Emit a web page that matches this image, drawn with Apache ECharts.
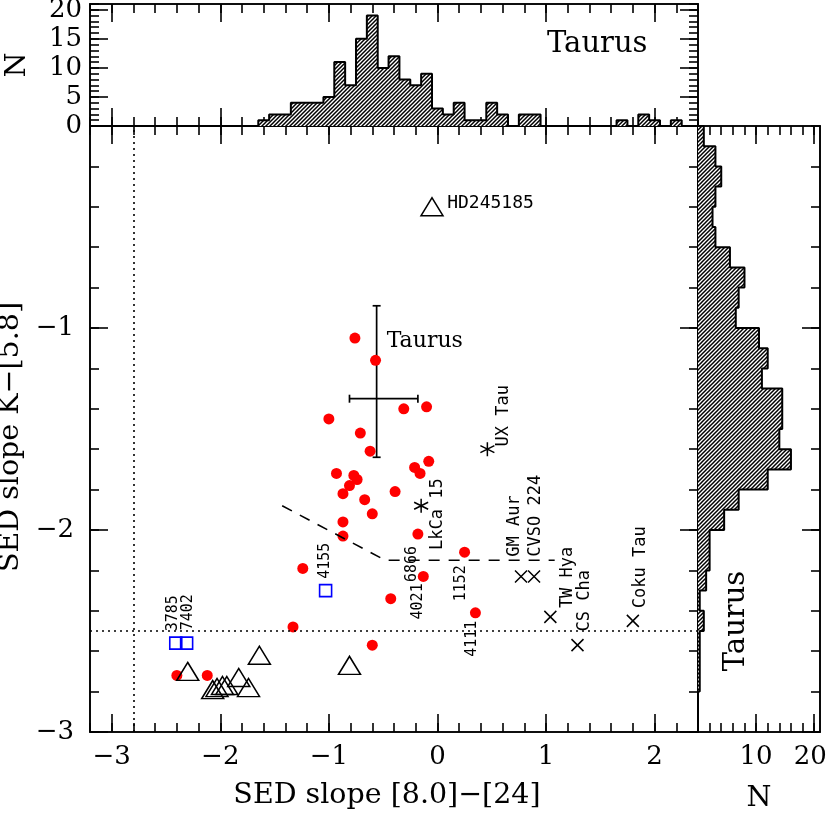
<!DOCTYPE html>
<html><head><meta charset="utf-8">
<script src="https://cdn.jsdelivr.net/npm/echarts@6/dist/echarts.min.js"></script>
<style>html,body{margin:0;padding:0;background:#fff}#c{width:830px;height:820px}</style>
</head><body><div id="c"></div>
<script>
// ---------------- DATA ----------------
const xMajorTicks = [-3, -2, -1, 0, 1, 2];
const yMajorTicks = [-3, -2, -1];
const topHistNTicks = [0, 5, 10, 15, 20];
const rightHistNTicks = [10, 20];

// top histogram: SED slope [8.0]-[24]
const topBinCenters = [-1.6,-1.5,-1.4,-1.3,-1.2,-1.1,-1.0,-0.9,-0.8,-0.7,-0.6,-0.5,-0.4,-0.3,-0.2,-0.1,0.0,0.1,0.2,0.3,0.4,0.5,0.6,0.7,0.8,0.9,1.0,1.1,1.2,1.3,1.4,1.5,1.6,1.7,1.8,1.9,2.0,2.1,2.2];
const topBinCounts  = [1,2,2,4,4,4,5,11,7,15,19,10,12,8,7,9,3,2,4,1,1,4,2,0,2,2,0,0,0,0,0,0,0,1,0,2,1,0,1];

// right histogram: SED slope K-[5.8]
const rightBinCenters = [-0.05,-0.15,-0.25,-0.35,-0.45,-0.55,-0.65,-0.75,-0.85,-0.95,-1.05,-1.15,-1.25,-1.35,-1.45,-1.55,-1.65,-1.75,-1.85,-1.95,-2.05,-2.15,-2.25,-2.35,-2.45,-2.55,-2.65,-2.75];
const rightBinCounts  = [1,3,4,3,2.5,3,5.5,8,7,6.5,10.5,12,11,14.5,14.5,14,16,12,7,4.5,2,2,1.4,0.3,1,0.3,0.3,0.3];

// red filled circles
const redX = [-0.76,-0.57,-0.31,-0.10,-1.00,-0.71,-0.62,-0.08,-0.21,-0.16,-0.93,-0.77,-0.74,-0.81,-0.87,-0.39,-0.67,-0.60,-0.87,-0.87,-0.18,0.25,-1.24,-0.13,-0.43,0.35,-1.33,-0.60,-2.40,-2.12];
const redY = [-1.05,-1.16,-1.40,-1.39,-1.45,-1.52,-1.61,-1.66,-1.69,-1.72,-1.72,-1.73,-1.75,-1.78,-1.82,-1.81,-1.85,-1.92,-1.96,-2.03,-2.02,-2.11,-2.19,-2.23,-2.34,-2.41,-2.48,-2.57,-2.72,-2.72];
const redNames = ['','','','','','','','','','','','','','','','','','','','','6866','1152','','4021','','4111','','','',''];

// blue open squares
const blueX = [-2.41, -2.31, -1.03];
const blueY = [-2.56, -2.56, -2.30];
const blueNames = ['3785', '7402', '4155'];

// open triangles
const triX = [-0.05, -2.30, -1.64, -0.81, -1.83, -1.74, -2.07, -2.03, -1.98, -1.94];
const triY = [-0.40, -2.70, -2.62, -2.67, -2.73, -2.78, -2.79, -2.78, -2.77, -2.77];
const triNames = ['HD245185', '', '', '', '', '', '', '', '', ''];

// crosses
const crossX = [0.77, 0.89, 1.04, 1.29, 1.80];
const crossY = [-2.23, -2.23, -2.43, -2.57, -2.45];
const crossNames = ['GM Aur', 'CVSO 224', 'TW Hya', 'CS Cha', 'Coku Tau'];

// asterisks
const starX = [0.46, -0.15];
const starY = [-1.60, -1.88];
const starNames = ['UX Tau', 'LkCa 15'];

// Taurus error cross
const errCenter = [-0.56, -1.35];
const errXRange = [-0.81, -0.18];
const errYRange = [-1.64, -0.89];

// dashed boundary
const dashX = [-1.43, -0.48, 1.08];
const dashY = [-1.88, -2.15, -2.15];

// dotted reference lines
const refLineY = -2.5;
const refLineX = -2.8;

const BIN = 0.1;

// ---------------- STYLE ----------------
const SERIF = 'DejaVu Serif';
const MONO = 'DejaVu Sans Mono';
const AX = { color: '#000', width: 1.6 };
const MAJ = 18, MIN = 9;
const NAME_FS = 28.5;
const labelOffsets = {
  'UX Tau': [17, -2], 'LkCa 15': [17, 45], 'GM Aur': [-6, -19], 'CVSO 224': [2, -19],
  'TW Hya': [18, -8], 'CS Cha': [8, -13], 'Coku Tau': [8, -12],
  '3785': [-2, -11], '7402': [2, -12], '4155': [0, -11],
  '6866': [-6, 48], '4021': [-5, 43], '1152': [-3, 49], '4111': [-3, 44],
  'HD245185': [16, -3]
};

const range = (a, b, s) => { const r = []; for (let v = a; v <= b + 1e-9; v += s) r.push(+v.toFixed(4)); return r; };
const fmt = v => (v < 0 ? '\u2212' + Math.abs(v) : String(v));

function makeHatch() {
  const c = document.createElement('canvas'); c.width = 4; c.height = 4;
  const g = c.getContext('2d');
  g.fillStyle = '#fff'; g.fillRect(0, 0, 4, 4);
  g.strokeStyle = '#000'; g.lineWidth = 1.5;
  g.beginPath();
  g.moveTo(-1, 5); g.lineTo(5, -1);
  g.moveTo(-1, 1); g.lineTo(1, -1);
  g.moveTo(3, 5); g.lineTo(5, 3);
  g.stroke();
  return c;
}
const hatch = { image: makeHatch(), repeat: 'repeat' };

function axis(grid, pos, min, max, ticks, len, lab, extra) {
  const a = {
    type: 'value', gridIndex: grid, position: pos, min: min, max: max,
    axisLine: { show: true, onZero: false, lineStyle: AX },
    axisTick: { show: true, inside: true, length: len, customValues: ticks, lineStyle: AX },
    axisLabel: lab ? Object.assign({ show: true, customValues: lab.values, formatter: fmt, fontFamily: SERIF, fontSize: 26, color: '#000', margin: 12 }, lab.opts || {}) : { show: false },
    splitLine: { show: false }, minorTick: { show: false }, minorSplitLine: { show: false }
  };
  return Object.assign(a, extra || {});
}

const xMinor = range(-3.2, 2.4, 0.2);
const yMinor = range(-3, 0, 0.2);
const nMinorTop = range(0, 21, 1);
const nMinorRight = range(0, 20, 2);

const xAxes = [
  // main grid 0
  axis(0, 'bottom', -3.2, 2.4, xMajorTicks, MAJ, { values: xMajorTicks, opts: { margin: 12 } },
    { name: 'SED slope [8.0]\u2212[24]', nameLocation: 'middle', nameGap: 49,
      nameTextStyle: { fontFamily: SERIF, fontSize: NAME_FS, color: '#000', padding: [0, 14, 0, 0] } }),
  axis(0, 'bottom', -3.2, 2.4, xMinor, MIN),
  axis(0, 'top', -3.2, 2.4, xMajorTicks, MAJ),
  axis(0, 'top', -3.2, 2.4, xMinor, MIN),
  // top hist grid 1
  axis(1, 'bottom', -3.2, 2.4, xMajorTicks, MAJ),
  axis(1, 'bottom', -3.2, 2.4, xMinor, MIN),
  axis(1, 'top', -3.2, 2.4, xMajorTicks, MAJ),
  axis(1, 'top', -3.2, 2.4, xMinor, MIN),
  // right hist grid 2
  axis(2, 'bottom', 0, 21, rightHistNTicks, MAJ, { values: rightHistNTicks, opts: {
      formatter: v => (v === 20 ? '{s|20}' : String(v)),
      rich: { s: { fontFamily: SERIF, fontSize: 26, color: '#000', padding: [0, 8, 0, 0] } } } },
    { name: 'N', nameLocation: 'middle', nameGap: 52, nameTextStyle: { fontFamily: SERIF, fontSize: NAME_FS, color: '#000' } }),
  axis(2, 'bottom', 0, 21, nMinorRight, MIN),
  axis(2, 'top', 0, 21, rightHistNTicks, MAJ),
  axis(2, 'top', 0, 21, nMinorRight, MIN)
];

const yAxes = [
  // main
  axis(0, 'left', -3, 0, yMajorTicks, MAJ, { values: yMajorTicks, opts: { margin: 16 } },
    { name: 'SED slope K\u2212[5.8]', nameLocation: 'middle', nameGap: 58,
      nameTextStyle: { fontFamily: SERIF, fontSize: NAME_FS, color: '#000', padding: [0, 16, 0, 0] } }),
  axis(0, 'left', -3, 0, yMinor, MIN),
  axis(0, 'right', -3, 0, yMajorTicks, MAJ),
  axis(0, 'right', -3, 0, yMinor, MIN),
  // top hist
  axis(1, 'left', 0, 21, topHistNTicks, MAJ, { values: topHistNTicks, opts: { margin: 8 } },
    { name: 'N', nameLocation: 'middle', nameGap: 58, nameTextStyle: { fontFamily: SERIF, fontSize: NAME_FS, color: '#000' } }),
  axis(1, 'left', 0, 21, nMinorTop, MIN),
  axis(1, 'right', 0, 21, topHistNTicks, MAJ),
  axis(1, 'right', 0, 21, nMinorTop, MIN),
  // right hist
  axis(2, 'left', -3, 0, [], MAJ),
  axis(2, 'left', -3, 0, [], MIN),
  axis(2, 'right', -3, 0, yMajorTicks, MAJ),
  axis(2, 'right', -3, 0, yMinor, MIN)
];

// histogram outlines built from the bins
function outlineTop() {
  const pts = [[topBinCenters[0] - BIN / 2, 0]];
  topBinCenters.forEach((c, i) => { pts.push([c - BIN / 2, topBinCounts[i]], [c + BIN / 2, topBinCounts[i]]); });
  pts.push([topBinCenters[topBinCenters.length - 1] + BIN / 2, 0]);
  return pts;
}
function outlineRight() {
  const pts = [[0, rightBinCenters[0] + BIN / 2]];
  rightBinCenters.forEach((c, i) => { pts.push([rightBinCounts[i], c + BIN / 2], [rightBinCounts[i], c - BIN / 2]); });
  pts.push([0, rightBinCenters[rightBinCenters.length - 1] - BIN / 2]);
  return pts;
}

function makeLabel(text, w, h) {
  if (!text) return { show: false };
  const d = labelOffsets[text] || [0, 0];
  const horiz = text === 'HD245185';
  const isNum = /^\d+$/.test(text);
  return {
    show: true, formatter: text, position: [w / 2 + d[0], h / 2 + d[1]],
    rotate: horiz ? 0 : 90, align: 'left', verticalAlign: 'middle',
    fontFamily: MONO, fontSize: horiz ? 18 : (isNum ? 15 : 17), color: '#000', opacity: 1
  };
}
function pts(xs, ys, names, w, h) {
  return xs.map((x, i) => ({ value: [x, ys[i]], label: makeLabel(names[i], w, h) }));
}

const crossPath = 'path://M0,0L10,10M10,0L0,10';
const starPath = 'path://M5,0L5,10M0.67,2.5L9.33,7.5M0.67,7.5L9.33,2.5';

const option = {
  animation: false,
  backgroundColor: '#fff',
  grid: [
    { left: 90, top: 126, width: 608, height: 606, containLabel: false, outerBoundsMode: 'none' },
    { left: 90, top: 4, width: 608, height: 122, containLabel: false, outerBoundsMode: 'none' },
    { left: 698, top: 126, width: 122, height: 606, containLabel: false, outerBoundsMode: 'none' }
  ],
  xAxis: xAxes,
  yAxis: yAxes,
  graphic: [
    { type: 'text', left: 547, top: 30, style: { text: 'Taurus', fontFamily: SERIF, fontSize: 29, fill: '#000' } },
    { type: 'text', x: 736, y: 621, rotation: Math.PI / 2, style: { text: 'Taurus', fontFamily: SERIF, fontSize: 29, fill: '#000', align: 'center', verticalAlign: 'middle' } }
  ],
  series: [
    // top histogram fill
    { type: 'custom', xAxisIndex: 4, yAxisIndex: 4, silent: true,
      data: topBinCenters.map((c, i) => [c, topBinCounts[i]]),
      renderItem: (p, api) => {
        const c = api.value(0), n = api.value(1);
        if (!n) return null;
        const a = api.coord([c - BIN / 2, n]), b = api.coord([c + BIN / 2, 0]);
        return { type: 'rect', shape: { x: a[0] - 0.3, y: a[1], width: b[0] - a[0] + 0.6, height: b[1] - a[1] }, style: { fill: hatch } };
      } },
    { type: 'line', xAxisIndex: 4, yAxisIndex: 4, silent: true, symbol: 'none', data: outlineTop(),
      lineStyle: { color: '#000', width: 2 } },
    // right histogram fill
    { type: 'custom', xAxisIndex: 8, yAxisIndex: 8, silent: true,
      data: rightBinCenters.map((c, i) => [rightBinCounts[i], c]),
      renderItem: (p, api) => {
        const n = api.value(0), c = api.value(1);
        if (!n) return null;
        const a = api.coord([0, c + BIN / 2]), b = api.coord([n, c - BIN / 2]);
        return { type: 'rect', shape: { x: a[0], y: a[1] - 0.3, width: b[0] - a[0], height: b[1] - a[1] + 0.6 }, style: { fill: hatch } };
      } },
    { type: 'line', xAxisIndex: 8, yAxisIndex: 8, silent: true, symbol: 'none', data: outlineRight(),
      lineStyle: { color: '#000', width: 2 } },
    // dashed boundary + dotted reference lines
    { type: 'line', xAxisIndex: 0, yAxisIndex: 0, silent: true, symbol: 'none',
      data: dashX.map((x, i) => [x, dashY[i]]),
      lineStyle: { color: '#000', width: 1.6, type: [11, 9] },
      markLine: { silent: true, symbol: 'none', label: { show: false },
        lineStyle: { color: '#000', width: 1.6, type: [2, 4] },
        data: [{ yAxis: refLineY }, { xAxis: refLineX }] } },
    // Taurus error cross
    { type: 'custom', xAxisIndex: 0, yAxisIndex: 0, silent: true,
      data: [[errCenter[0], errCenter[1], errXRange[0], errXRange[1], errYRange[0], errYRange[1]]],
      renderItem: (p, api) => {
        const xl = api.coord([api.value(2), api.value(1)]), xh = api.coord([api.value(3), api.value(1)]);
        const yl = api.coord([api.value(0), api.value(4)]), yh = api.coord([api.value(0), api.value(5)]);
        const st = { stroke: '#000', lineWidth: 1.7 };
        const cap = 4;
        return { type: 'group', children: [
          { type: 'line', shape: { x1: xl[0], y1: xl[1], x2: xh[0], y2: xh[1] }, style: st },
          { type: 'line', shape: { x1: yl[0], y1: yl[1], x2: yh[0], y2: yh[1] }, style: st },
          { type: 'line', shape: { x1: xl[0], y1: xl[1] - cap, x2: xl[0], y2: xl[1] + cap }, style: st },
          { type: 'line', shape: { x1: xh[0], y1: xh[1] - cap, x2: xh[0], y2: xh[1] + cap }, style: st },
          { type: 'line', shape: { x1: yl[0] - cap, y1: yl[1], x2: yl[0] + cap, y2: yl[1] }, style: st },
          { type: 'line', shape: { x1: yh[0] - cap, y1: yh[1], x2: yh[0] + cap, y2: yh[1] }, style: st },
          { type: 'text', x: yh[0] + 10, y: yh[1] + 36, style: { text: 'Taurus', fill: '#000', fontFamily: SERIF, fontSize: 22, align: 'left', verticalAlign: 'middle' } }
        ] };
      } },
    // red circles
    { type: 'scatter', xAxisIndex: 0, yAxisIndex: 0, silent: true, symbol: 'circle', symbolSize: 11,
      itemStyle: { color: '#ff0000', opacity: 1 }, data: pts(redX, redY, redNames, 11, 11) },
    // blue squares
    { type: 'scatter', xAxisIndex: 0, yAxisIndex: 0, silent: true, symbol: 'rect', symbolSize: 12,
      itemStyle: { color: 'rgba(0,0,0,0)', borderColor: '#0000ff', borderWidth: 1.6, opacity: 1 }, data: pts(blueX, blueY, blueNames, 12, 12) },
    // triangles
    { type: 'scatter', xAxisIndex: 0, yAxisIndex: 0, silent: true, symbol: 'triangle', symbolSize: [22, 18],
      itemStyle: { color: 'rgba(0,0,0,0)', borderColor: '#000', borderWidth: 1.5, opacity: 1 }, data: pts(triX, triY, triNames, 22, 18) },
    // crosses
    { type: 'scatter', xAxisIndex: 0, yAxisIndex: 0, silent: true, symbol: crossPath, symbolSize: 12,
      itemStyle: { color: 'rgba(0,0,0,0)', borderColor: '#000', borderWidth: 1.5, opacity: 1 }, data: pts(crossX, crossY, crossNames, 12, 12) },
    // asterisks
    { type: 'scatter', xAxisIndex: 0, yAxisIndex: 0, silent: true, symbol: starPath, symbolSize: 14,
      itemStyle: { color: 'rgba(0,0,0,0)', borderColor: '#000', borderWidth: 1.5, opacity: 1 }, data: pts(starX, starY, starNames, 14, 14) }
  ]
};

const chart = echarts.init(document.getElementById('c'));
chart.setOption(option);
</script>
</body></html>
